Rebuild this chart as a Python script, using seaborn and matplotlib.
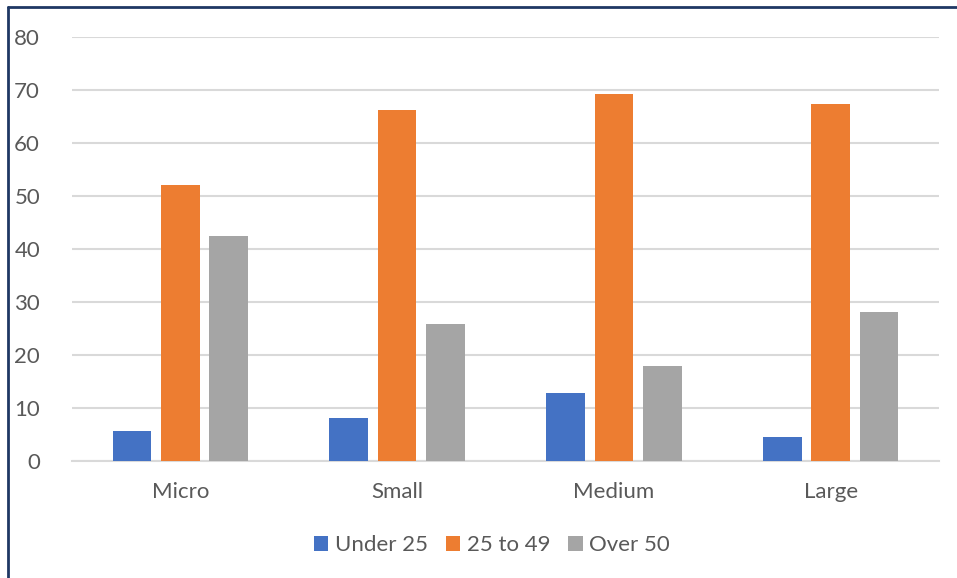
import pandas as pd
import matplotlib.pyplot as plt
import seaborn as sns
from matplotlib.lines import Line2D

# values
sizes = ['Micro', 'Small', 'Medium', 'Large']
age_groups = ['Under 25', '25 to 49', 'Over 50']
under_25 = [5.6, 8.2, 12.9, 4.6]
age_25_49 = [52.0, 66.2, 69.3, 67.4]
over_50 = [42.4, 25.9, 17.9, 28.1]
colors = ['#4472C4', '#ED7D31', '#A5A5A5']

df = pd.DataFrame({'size': sizes * 3,
                   'group': [g for g in age_groups for _ in sizes],
                   'value': under_25 + age_25_49 + over_50})

sns.set_style('white')
plt.rcParams['font.family'] = ['Lato', 'DejaVu Sans']
text_col = '#595959'

fig = plt.figure(figsize=(9.57, 5.78), dpi=100)
ax = fig.add_axes([72 / 957, 1 - 461 / 578, 867 / 957, 424 / 578])

sns.barplot(data=df, x='size', y='value', hue='group', order=sizes,
            hue_order=age_groups, palette=colors, width=0.67, gap=0.2,
            saturation=1, edgecolor='none', ax=ax, zorder=3)

ax.set_ylim(0, 80)
ax.set_yticks(range(0, 81, 10))
ax.grid(axis='y', color='#d9d9d9', linewidth=1.5, zorder=0)
ax.set_axisbelow(True)
for s in ['top', 'right', 'left']:
    ax.spines[s].set_visible(False)
ax.spines['bottom'].set_color('#d9d9d9')
ax.spines['bottom'].set_linewidth(1.5)
ax.tick_params(axis='both', length=0, labelsize=16, colors=text_col)
ax.tick_params(axis='y', pad=23)
ax.tick_params(axis='x', pad=15)
ax.set_xlabel('')
ax.set_ylabel('')

handles, labels = ax.get_legend_handles_labels()
ax.legend_.remove()
fig.legend(handles, labels, loc='center', bbox_to_anchor=(492 / 957, 1 - 545 / 578),
           ncol=3, frameon=False, fontsize=16, handlelength=0.65, handleheight=0.65,
           handletextpad=0.3, columnspacing=0.8, labelcolor=text_col)

# chart border (left and top edges only visible)
fig.add_artist(Line2D([8 / 957, 8 / 957], [0, 1 - 7 / 578], color='#1F3864', lw=2))
fig.add_artist(Line2D([8 / 957, 1], [1 - 7 / 578, 1 - 7 / 578], color='#1F3864', lw=2))

fig.savefig('out.png', dpi=100)
